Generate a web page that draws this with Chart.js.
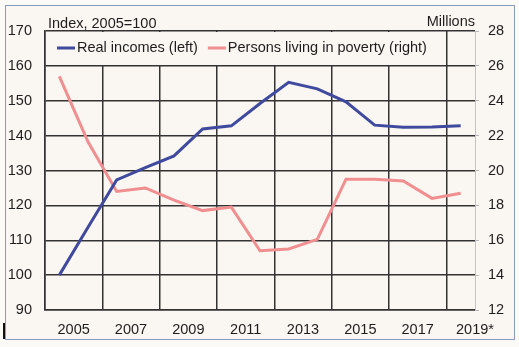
<!DOCTYPE html>
<html>
<head>
<meta charset="utf-8">
<script src="https://cdn.jsdelivr.net/npm/chart.js@4"></script>
<style>
  html, body { margin: 0; padding: 0; background: #fbfaf7; }
  #frame { position: absolute; left: 5px; top: 5px; width: 508px; height: 333px; border: 1px solid #8a9bbb; background: #faf6f1; }
  #stub { position: absolute; left: 3px; top: 323px; width: 2px; height: 16px; background: #111; }
  #chart { position: absolute; left: 0; top: 0; }
</style>
</head>
<body>
<div id="frame"></div>
<div id="stub"></div>
<canvas id="chart" width="519" height="347"></canvas>
<script>
// Data
const years = [2005, 2006, 2007, 2008, 2009, 2010, 2011, 2012, 2013, 2014, 2015, 2016, 2017, 2018, 2019];
const realIncomes = [100, 113.7, 127.3, 130.8, 134.2, 141.9, 142.8, 149.2, 155.3, 153.4, 149.7, 143.0, 142.4, 142.5, 142.8];
const povertyMillions = [25.4, 21.65, 18.8, 19.0, 18.3, 17.7, 17.9, 15.4, 15.5, 16.05, 19.5, 19.5, 19.4, 18.4, 18.7];
const xTickLabels = ["2005", "2007", "2009", "2011", "2013", "2015", "2017", "2019*"];
const seriesLabels = ["Real incomes (left)", "Persons living in poverty (right)"];
const leftTitle = "Index, 2005=100";
const rightTitle = "Millions";

// Styles
const FONT_FAMILY = "'Liberation Sans', Arial, sans-serif";
const FONT_SIZE = 14.5;
const TEXT_COLOR = "#1e1e1e";
const GRID_COLOR = "#333333";
const BG_COLOR = "#faf6f1";

// Legend drawn inside the plot, over the grid
const insideLegend = {
  id: "insideLegend",
  beforeDatasetsDraw(chart) {
    const { ctx, chartArea } = chart;
    ctx.save();
    ctx.fillStyle = BG_COLOR;
    ctx.fillRect(chartArea.left + 1, chartArea.top + 1, 390, 33);
    ctx.font = FONT_SIZE + "px " + FONT_FAMILY;
    ctx.textBaseline = "middle";
    ctx.textAlign = "left";
    let x = chartArea.left + 12;
    const y = chartArea.top + 17;
    chart.data.datasets.forEach((ds) => {
      ctx.strokeStyle = ds.borderColor;
      ctx.lineWidth = 3;
      ctx.beginPath();
      ctx.moveTo(x, y);
      ctx.lineTo(x + 18, y);
      ctx.stroke();
      ctx.fillStyle = TEXT_COLOR;
      ctx.fillText(ds.label, x + 20, y);
      x += 20 + ctx.measureText(ds.label).width + 10;
    });
    ctx.restore();
  },
  afterDraw(chart) {
    const { ctx, chartArea } = chart;
    ctx.save();
    ctx.font = FONT_SIZE + "px " + FONT_FAMILY;
    ctx.fillStyle = TEXT_COLOR;
    ctx.textBaseline = "middle";
    ctx.textAlign = "left";
    ctx.fillText(leftTitle, chartArea.left + 3, chartArea.top - 7);
    ctx.textAlign = "right";
    ctx.fillText(rightTitle, chartArea.right, chartArea.top - 9);
    ctx.restore();
  },
};

const tickFont = { family: FONT_FAMILY, size: FONT_SIZE };

new Chart(document.getElementById("chart"), {
  type: "line",
  data: {
    datasets: [
      {
        label: seriesLabels[0],
        data: years.map((yr, i) => ({ x: yr, y: realIncomes[i] })),
        borderColor: "#3f4a9e",
        borderWidth: 3,
        pointRadius: 0,
        tension: 0,
        yAxisID: "y",
      },
      {
        label: seriesLabels[1],
        data: years.map((yr, i) => ({ x: yr, y: povertyMillions[i] })),
        borderColor: "#f08e90",
        borderWidth: 3,
        pointRadius: 0,
        tension: 0,
        yAxisID: "y1",
      },
    ],
  },
  options: {
    responsive: false,
    animation: false,
    layout: { padding: { top: 31, left: 0, right: 0, bottom: 0 } },
    plugins: { legend: { display: false }, tooltip: { enabled: false } },
    scales: {
      x: {
        type: "linear",
        min: years[0] - 0.5,
        max: years[years.length - 1] + 0.5,
        afterBuildTicks: (scale) => {
          scale.ticks = years.concat([years[years.length - 1] + 1]).map((yr) => ({ value: yr - 0.5 }));
        },
        afterFit: (scale) => { scale.height = 37; },
        grid: {
          drawTicks: false,
          lineWidth: 1.5,
          color: (c) => {
            const k = c.tick.value - (years[0] - 0.5);
            return k % 2 === 0 && k < years.length ? GRID_COLOR : "rgba(0,0,0,0)";
          },
        },
        border: { color: GRID_COLOR, width: 1.5 },
        ticks: {
          autoSkip: false,
          maxRotation: 0,
          padding: 11,
          font: tickFont,
          color: TEXT_COLOR,
          callback: (v) => {
            const k = v - (years[0] + 0.5);
            return k % 2 === 0 ? xTickLabels[k / 2] : "";
          },
        },
      },
      y: {
        position: "left",
        min: 90,
        max: 170,
        afterFit: (scale) => { scale.width = 45; },
        grid: { drawTicks: false, lineWidth: 1.5, color: GRID_COLOR },
        border: { color: GRID_COLOR, width: 1.5 },
        ticks: { stepSize: 10, padding: 13, font: tickFont, color: TEXT_COLOR },
      },
      y1: {
        position: "right",
        min: 12,
        max: 28,
        afterFit: (scale) => { scale.width = 44; },
        grid: { drawOnChartArea: false, drawTicks: true, tickLength: 4, color: "#b8b8b8" },
        border: { color: "#c4c4c4", width: 1 },
        ticks: { stepSize: 2, padding: 9, font: tickFont, color: TEXT_COLOR },
      },
    },
  },
  plugins: [insideLegend],
});
</script>
</body>
</html>
